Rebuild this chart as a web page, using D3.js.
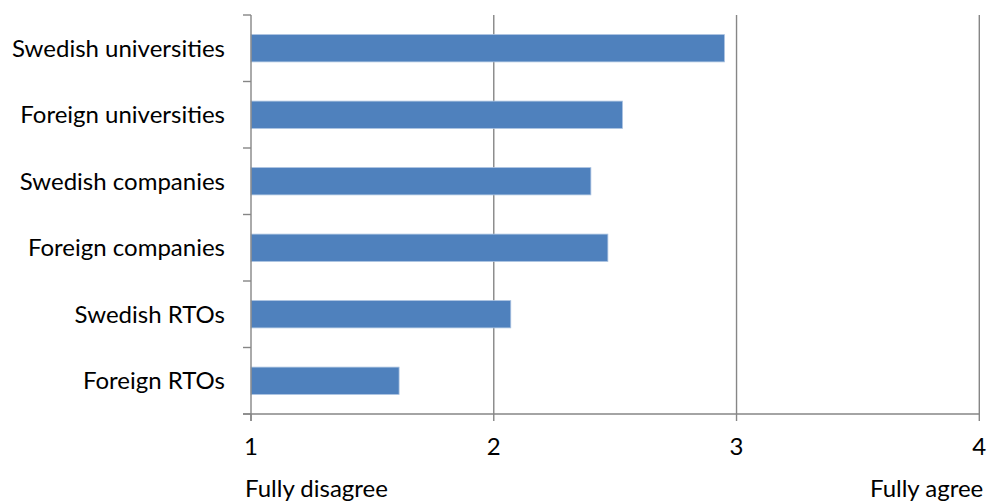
<!DOCTYPE html>
<html>
<head>
<meta charset="utf-8">
<script src="https://cdn.jsdelivr.net/npm/d3@7"></script>
<style>
  html, body { margin: 0; padding: 0; background: #fff; }
  svg { display: block; }
  text { font-family: Lato, "Open Sans", sans-serif; fill: #000; }
</style>
</head>
<body>
<svg id="chart" width="997" height="502"></svg>
<script>
// Mean agreement per partner type (scale 1 = fully disagree … 4 = fully agree)
const categories = [
  "Swedish universities",
  "Foreign universities",
  "Swedish companies",
  "Foreign companies",
  "Swedish RTOs",
  "Foreign RTOs"
];
const values = [2.95, 2.53, 2.40, 2.47, 2.07, 1.61];
const xTicks = [1, 2, 3, 4];
const scaleEnds = ["Fully disagree", "Fully agree"];

const svg = d3.select("#chart");
const plotLeft = 251, plotRight = 979.3, plotTop = 15, plotBottom = 414;
const axisColor = "#868686";
const fontSize = 24;

const x = d3.scaleLinear().domain([1, 4]).range([plotLeft, plotRight]);
const y = d3.scaleBand().domain(categories).range([plotTop, plotBottom]).paddingInner(0.59).paddingOuter(0.295);
const yEdges = d3.scaleLinear().domain([0, categories.length]).range([plotTop, plotBottom]);

// vertical gridlines
svg.append("g").selectAll("line")
  .data(xTicks.filter(t => t !== 1))
  .join("line")
  .attr("x1", d => x(d)).attr("x2", d => x(d))
  .attr("y1", plotTop).attr("y2", plotBottom)
  .attr("stroke", axisColor).attr("stroke-width", 1.4);

// bars
svg.append("g").selectAll("rect")
  .data(categories)
  .join("rect")
  .attr("x", x(1))
  .attr("y", d => y(d))
  .attr("width", (d, i) => x(values[i]) - x(1))
  .attr("height", y.bandwidth())
  .attr("fill", "#4F81BD")
  .attr("stroke", "#a9c1e0")
  .attr("stroke-width", 0.8);

// y axis line and category boundary ticks
svg.append("line")
  .attr("x1", plotLeft).attr("x2", plotLeft).attr("y1", plotTop).attr("y2", plotBottom + 7)
  .attr("stroke", axisColor).attr("stroke-width", 1.4);
svg.append("g").selectAll("line")
  .data(d3.range(categories.length + 1))
  .join("line")
  .attr("x1", plotLeft - 8).attr("x2", plotLeft)
  .attr("y1", d => yEdges(d)).attr("y2", d => yEdges(d))
  .attr("stroke", axisColor).attr("stroke-width", 1.4);

// x axis line and ticks
svg.append("line")
  .attr("x1", plotLeft - 8).attr("x2", plotRight).attr("y1", plotBottom).attr("y2", plotBottom)
  .attr("stroke", axisColor).attr("stroke-width", 1.4);
svg.append("g").selectAll("line")
  .data(xTicks)
  .join("line")
  .attr("x1", d => x(d)).attr("x2", d => x(d))
  .attr("y1", plotBottom).attr("y2", plotBottom + 7)
  .attr("stroke", axisColor).attr("stroke-width", 1.4);

// category labels
svg.append("g").selectAll("text")
  .data(categories)
  .join("text")
  .attr("x", plotLeft - 26)
  .attr("y", d => y(d) + y.bandwidth() / 2)
  .attr("dy", "0.35em")
  .attr("text-anchor", "end")
  .attr("font-size", fontSize)
  .text(d => d);

// x tick labels
svg.append("g").selectAll("text")
  .data(xTicks)
  .join("text")
  .attr("x", d => x(d))
  .attr("y", 455)
  .attr("text-anchor", "middle")
  .attr("font-size", fontSize)
  .text(d => d);

// scale end captions
svg.append("text")
  .attr("x", x(1) - 6).attr("y", 497)
  .attr("text-anchor", "start")
  .attr("font-size", fontSize)
  .text(scaleEnds[0]);
svg.append("text")
  .attr("x", x(4) + 4).attr("y", 497)
  .attr("text-anchor", "end")
  .attr("font-size", fontSize)
  .text(scaleEnds[1]);
</script>
</body>
</html>
